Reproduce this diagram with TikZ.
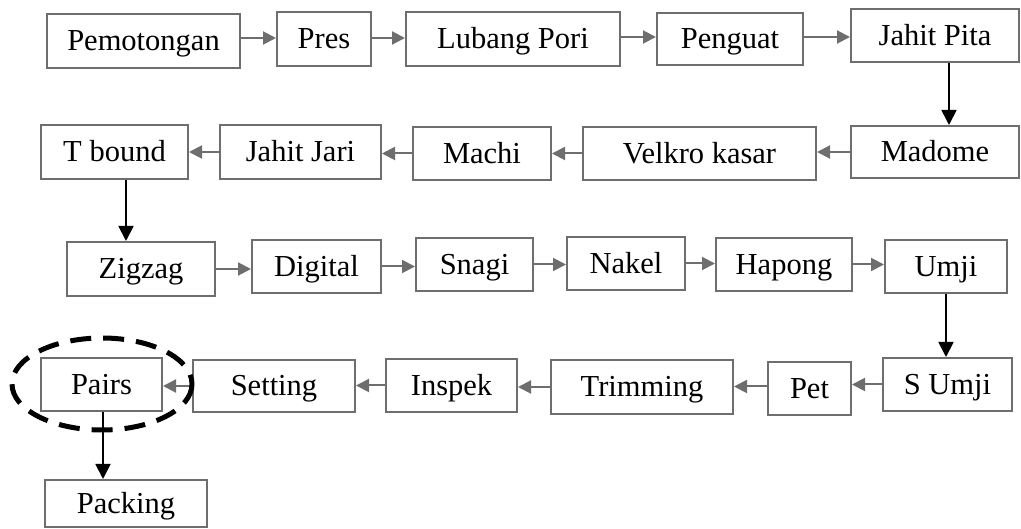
\documentclass[tikz,border=0pt]{standalone}
\usepackage{fontspec}
\setmainfont{Liberation Serif}
\usetikzlibrary{arrows.meta}
\definecolor{boxgray}{HTML}{6E6E6E}
\tikzset{
 pbox/.style={draw=boxgray, line width=2pt, fill=white, inner sep=0pt, text height=20pt, text depth=0pt, font=\fontsize{30.5}{32}\selectfont},
 harrow/.style={draw=boxgray, line width=2pt, -{Triangle[length=13pt,width=13pt]}},
 varrow/.style={draw=black, line width=1.8pt, -{Triangle[length=15pt,width=15pt]}},
 selring/.style={draw=black, line width=5pt, dash pattern=on 21pt off 12pt},
}
\newcommand\bx[6]{\node[pbox, minimum width={#4-#2}, minimum height={#5-#3}] (#1) at ({(#2+#4)/2},{(#3+#5)/2}) {#6};}
\begin{document}
\begin{tikzpicture}[x=1pt,y=-1pt]
\useasboundingbox (0,0) rectangle (1021,529);
% row 1
\bx{pem}{47}{14}{240}{68}{Pemotongan}
\bx{pres}{277}{12}{371}{66}{Pres}
\bx{lub}{406}{12}{620}{66}{Lubang Pori}
\bx{pen}{657}{13}{803}{65}{Penguat}
\bx{jp}{851}{9}{1019}{62}{Jahit Pita}
% row 2
\bx{mad}{851}{126}{1019}{178}{Madome}
\bx{vel}{583}{127}{816}{180}{Velkro kasar}
\bx{mac}{413}{127}{551}{180}{Machi}
\bx{jj}{220}{125}{381}{179}{Jahit Jari}
\bx{tb}{41}{125}{188}{179}{T bound}
% row 3
\bx{zig}{67}{242}{215}{296}{Zigzag}
\bx{dig}{252}{240}{381}{293}{Digital}
\bx{sna}{416}{238}{533}{291}{Snagi}
\bx{nak}{567}{237}{685}{290}{Nakel}
\bx{hap}{716}{238}{852}{291}{Hapong}
\bx{umj}{885}{240}{1007}{293}{Umji}
% row 4
\bx{sum}{883}{358}{1012}{411}{S Umji}
\bx{pet}{768}{362}{851}{415}{Pet}
\bx{tri}{551}{360}{733}{414}{Trimming}
\bx{ins}{386}{359}{517}{412}{Inspek}
\bx{set}{193}{360}{355}{412}{Setting}
\bx{pai}{41}{358}{162}{411}{Pairs}
% row 5
\bx{pac}{45}{480}{207}{527}{Packing}
% arrows row 1
\draw[harrow] ([yshift=3pt]pem.east) -- ([yshift=3pt]pem.east -| pres.west);
\draw[harrow] ([yshift=1pt]pres.east) -- ([yshift=1pt]pres.east -| lub.west);
\draw[harrow] ([yshift=2pt]lub.east) -- ([yshift=2pt]lub.east -| pen.west);
\draw[harrow] ([yshift=2pt]pen.east) -- ([yshift=2pt]pen.east -| jp.west);
\draw[varrow] ([xshift=14pt]jp.south) -- ([xshift=14pt]jp.south |- mad.north);
% arrows row 2
\draw[harrow] (mad.west) -- (mad.west -| vel.east);
\draw[harrow] (vel.west) -- (vel.west -| mac.east);
\draw[harrow] (mac.west) -- (mac.west -| jj.east);
\draw[harrow] (jj.west) -- (jj.west -| tb.east);
\draw[varrow] ([xshift=11.5pt]tb.south) -- ([xshift=11.5pt]tb.south |- zig.north);
% arrows row 3
\draw[harrow] (zig.east) -- (zig.east -| dig.west);
\draw[harrow] (dig.east) -- (dig.east -| sna.west);
\draw[harrow] (sna.east) -- (sna.east -| nak.west);
\draw[harrow] (nak.east) -- (nak.east -| hap.west);
\draw[harrow] (hap.east) -- (hap.east -| umj.west);
\draw[varrow] (umj.south) -- (umj.south |- sum.north);
% arrows row 4
\draw[harrow] (sum.west) -- (sum.west -| pet.east);
\draw[harrow] ([yshift=2pt]pet.west) -- ([yshift=2pt]pet.west -| tri.east);
\draw[harrow] (tri.west) -- (tri.west -| ins.east);
\draw[harrow] (ins.west) -- (ins.west -| set.east);
\draw[harrow] (set.west) -- (set.west -| pai.east);
\draw[varrow] ([xshift=1.5pt]pai.south) -- ([xshift=1.5pt]pai.south |- pac.north);
% highlight
\draw[selring] (102,384) ellipse [x radius=90, y radius=46];
\end{tikzpicture}
\end{document}
